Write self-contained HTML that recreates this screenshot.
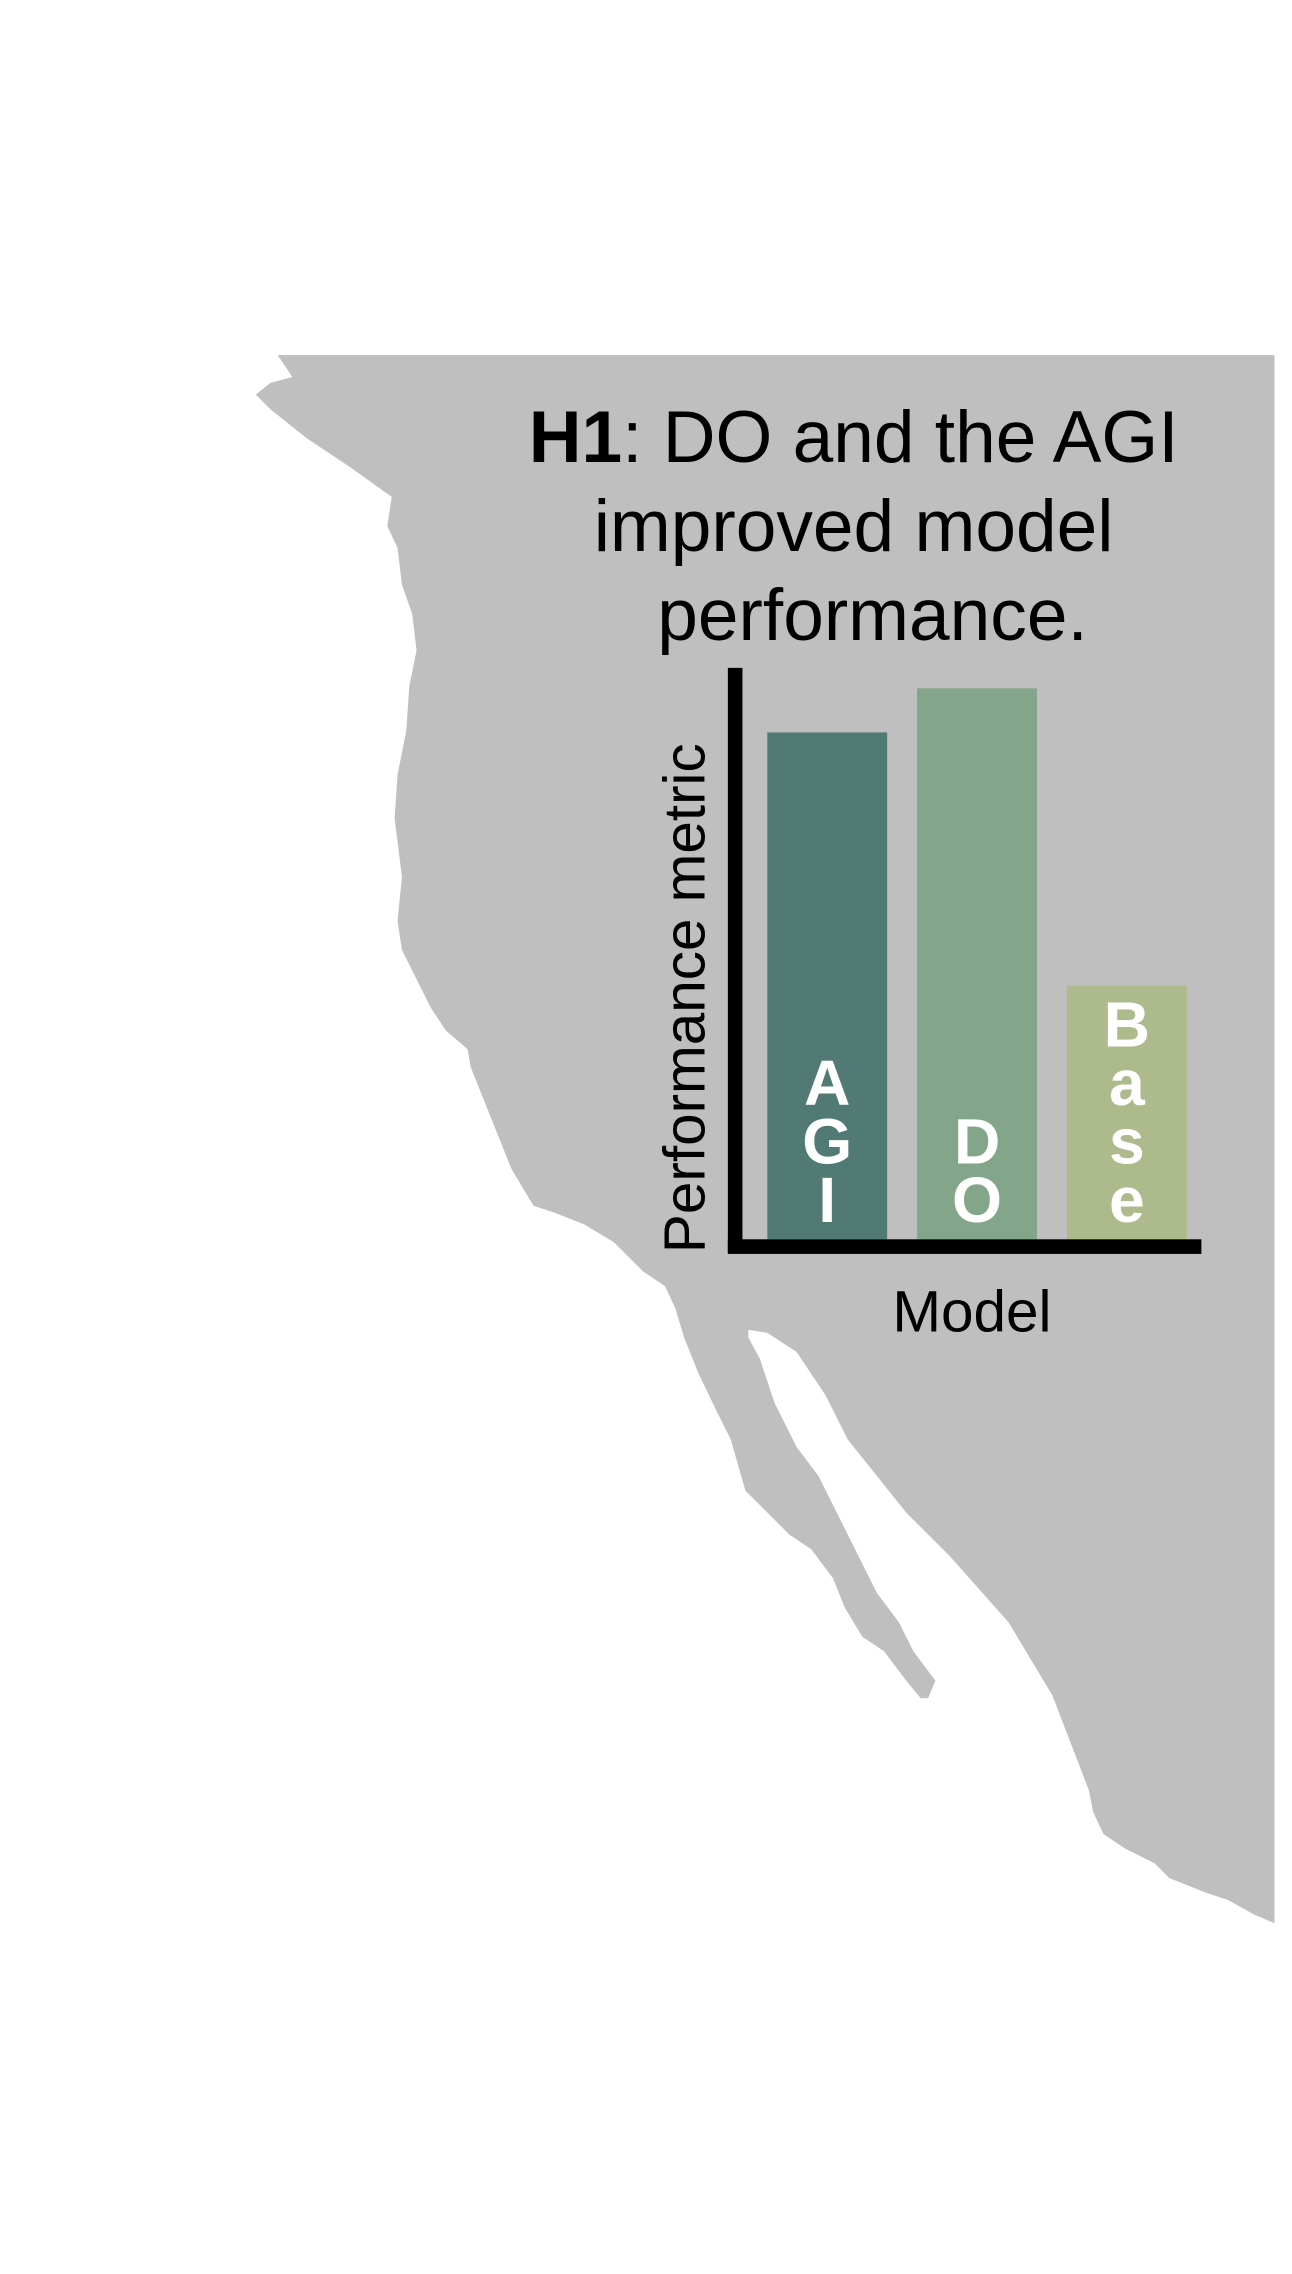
<!DOCTYPE html>
<html><head><meta charset="utf-8"><style>
html,body{margin:0;padding:0;background:#fff;}
svg{display:block;font-family:"Liberation Sans",Arial,sans-serif;}
</style></head><body>
<svg width="1292" height="2274" viewBox="0 0 884 1556" preserveAspectRatio="none" xmlns="http://www.w3.org/2000/svg">
<rect width="884" height="1556" fill="#fff"/>
<path fill="#bfbfbf" d="M190,243 L872,243 L872,1316 L858,1310 L840,1300 L825,1295 L800,1285 L790,1275 L770,1265 L755,1255 L748,1240 L745,1225 L720,1160 L690,1110 L650,1065 L620,1035 L600,1010 L580,985 L565,955 L545,925 L525,912 L512,910 L512,915 L520,930 L530,960 L545,990 L560,1010 L575,1040 L590,1070 L600,1090 L615,1110 L625,1130 L640,1150 L635,1162 L630,1162 L620,1150 L605,1130 L590,1120 L578,1100 L570,1080 L555,1060 L540,1050 L520,1030 L510,1020 L500,985 L490,965 L478,940 L468,915 L462,895 L455,880 L440,870 L420,850 L400,838 L380,830 L365,825 L350,800 L340,775 L330,750 L322,730 L320,718 L305,705 L295,690 L285,670 L275,650 L272,630 L275,600 L270,560 L272,530 L278,500 L280,470 L285,445 L282,420 L275,400 L272,375 L265,360 L268,340 L240,320 L210,300 L185,280 L175,270 L185,262 L200,258 Z"/>
<text font-size="50" text-anchor="middle" fill="#000">
<tspan x="591" y="316"><tspan font-weight="bold">H1</tspan>: DO and the AGI</tspan>
<tspan x="591" y="377">improved model</tspan>
<tspan x="597" y="438">performance.</tspan>
</text>
<g id="bars"></g>
<rect x="498" y="457" width="10" height="400" fill="#000"/>
<rect x="498" y="848" width="324" height="10" fill="#000"/>
<text font-size="40" text-anchor="middle" transform="translate(482,683) rotate(-90)">Performance metric</text>
<text font-size="40" text-anchor="middle" x="665" y="911">Model</text>
<script>
const categories=["AGI","DO","Base"];
const values=[92,100,46];
const colors=["#517a75","#83a58a","#adbb8c"];
const base=848,top0=471,x0=525,bw=82,step=102.5;
function yScale(v){return base-(base-top0)*v/100;}
function xScale(i){return x0+i*step;}
const g=document.getElementById('bars');
const NS="http://www.w3.org/2000/svg";
categories.forEach((c,i)=>{
  const r=document.createElementNS(NS,'rect');
  
  
  r.setAttribute('x',xScale(i));r.setAttribute('width',bw);
  r.setAttribute('y',yScale(values[i]));r.setAttribute('height',base-yScale(values[i]));
  r.setAttribute('fill',colors[i]);g.appendChild(r);
  const letters=c.split('');
  letters.forEach((ch,k)=>{
    const t=document.createElementNS(NS,'text');
    
    
    t.setAttribute('x',xScale(i)+bw/2);
    t.setAttribute('y',base-12-(letters.length-1-k)*40);
    t.setAttribute('text-anchor','middle');t.setAttribute('font-size','44');
    t.setAttribute('font-weight','bold');t.setAttribute('fill','#fff');
    t.textContent=ch;g.appendChild(t);
  });
});
</script>
</svg>
</body></html>
